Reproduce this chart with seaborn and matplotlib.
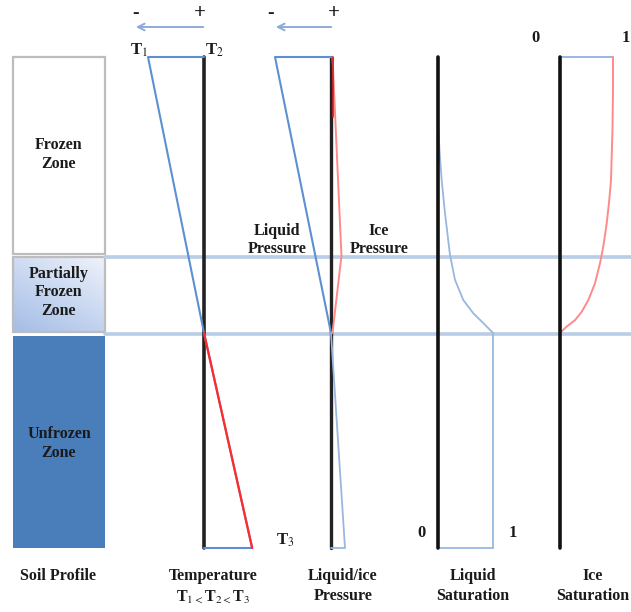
import numpy as np
import pandas as pd
import matplotlib
matplotlib.use("Agg")
import matplotlib.pyplot as plt
import seaborn as sns
from matplotlib.patches import Rectangle

# ---------------- data ----------------
zone_names = ["Frozen\nZone", "Partially\nFrozen\nZone", "Unfrozen\nZone"]
zone_bounds = [0.0, 0.405, 0.562, 1.0]          # depth fractions

temp_depth = [0.0, 0.562, 1.0]
temp_value = [-1.0, 0.0, 0.86]                  # relative to T2

lp_depth = [0.0, 0.562, 1.0]
lp_value = [-1.0, 0.0, 0.25]                    # liquid pressure
ip_depth = [0.0, 0.405, 0.562]
ip_value = [0.0, 0.16, 0.0]                     # ice pressure

ls_depth = [0.0, 0.128, 0.189, 0.251, 0.318, 0.403, 0.454, 0.495,
            0.522, 0.542, 0.562, 1.0]
ls_value = [0.0, 0.0, 0.027, 0.067, 0.127, 0.218, 0.309, 0.46,
            0.642, 0.824, 1.0, 1.0]             # liquid saturation

is_depth = [0.0, 0.067, 0.149, 0.251, 0.291, 0.339, 0.386, 0.420,
            0.461, 0.495, 0.519, 0.536, 0.549, 0.562]
is_value = [1.0, 1.0, 0.99, 0.962, 0.930, 0.881, 0.817, 0.755,
            0.66, 0.535, 0.409, 0.283, 0.126, 0.0]  # ice saturation

panel_titles = ["Soil Profile", "Temperature\nT$_{1<}$T$_{2<}$T$_3$",
                "Liquid/ice\nPressure", "Liquid\nSaturation", "Ice\nSaturation"]

# ---------------- layout ----------------
W, H = 631, 612
Y0, DH = 57, 491
BLUE = "#5d8fd2"
LBLUE = "#b9cde6"
RED = "#ff2a2a"
PINK = "#ff8a8a"

sns.set_theme(style="white")
plt.rcParams["font.family"] = ["Liberation Serif", "DejaVu Serif"]
plt.rcParams["mathtext.fontset"] = "stix"

fig = plt.figure(figsize=(W / 100, H / 100), dpi=100)
ax = fig.add_axes([0, 0, 1, 1])
ax.set_xlim(0, W)
ax.set_ylim(H, 0)
ax.axis("off")


def ypix(d):
    return Y0 + np.asarray(d, dtype=float) * DH


def draw(xs, ys, color, lw):
    df = pd.DataFrame({"x": np.asarray(xs, float), "y": np.asarray(ys, float)})
    sns.lineplot(data=df, x="x", y="y", sort=False, estimator=None,
                 color=color, lw=lw, ax=ax, legend=False)


TXT = dict(color="#1a1a1a", fontsize=11.5, ha="center", va="center",
           linespacing=1.2, fontweight="bold")
BTXT = dict(color="#1a1a1a", fontsize=12, ha="center", va="center",
            fontweight="bold")

# ---------------- soil profile ----------------
bx0, bx1 = 13, 105
yb = ypix(zone_bounds)
ax.add_patch(Rectangle((bx0, yb[0]), bx1 - bx0, yb[1] - 2 - yb[0],
                       facecolor="white", edgecolor="#bdbdbd", lw=1.6, zorder=2))
grad = np.linspace(0, 1, 60)[:, None] * 0.6 + np.linspace(0, 1, 60)[None, ::-1] * 0.4
cmap = matplotlib.colors.LinearSegmentedColormap.from_list("pf", ["#eef2fb", "#a4bde6"])
ax.imshow(grad, extent=(bx0, bx1, yb[2] - 1, yb[1] + 1), cmap=cmap,
          aspect="auto", zorder=1)
ax.add_patch(Rectangle((bx0, yb[1] + 1), bx1 - bx0, yb[2] - yb[1] - 2,
                       facecolor="none", edgecolor="#bdbdbd", lw=1.6, zorder=2))
ax.add_patch(Rectangle((bx0, yb[2] + 3), bx1 - bx0, yb[3] - yb[2] - 3,
                       facecolor="#4a7ebb", edgecolor="none", zorder=2))
for i, name in enumerate(zone_names):
    ax.text((bx0 + bx1) / 2, (yb[i] + yb[i + 1]) / 2 + (3 if i == 2 else -2),
            name, **TXT, zorder=3)

for d in zone_bounds[1:3]:
    draw([bx1, W], [ypix(d) + 1, ypix(d) + 1], LBLUE, 2.6)

# ---------------- temperature ----------------
x0, sc = 204, 56
draw([x0, x0], [Y0, Y0 + DH], "#222222", 2.6)
tx = x0 + np.array(temp_value) * sc
ty = ypix(temp_depth)
draw([x0, tx[0], tx[1]], [Y0, ty[0], ty[1]], BLUE, 1.5)
draw([tx[1], tx[2], x0], [ty[1], ty[2], Y0 + DH], BLUE, 1.5)
draw(tx[1:], ty[1:], RED, 1.6)
ax.annotate("", xy=(133, 27), xytext=(206, 27),
            arrowprops=dict(arrowstyle="->", color="#8eaadb", lw=1.4))
ax.text(136, 14, "-", **{**BTXT, "fontsize": 14})
ax.text(200, 13, "+", **{**BTXT, "fontsize": 15})
ax.text(139, 50, "T$_1$", **BTXT)
ax.text(214, 50, "T$_2$", **BTXT)
ax.text(285, 540, "T$_3$", **BTXT)

# ---------------- pressure ----------------
x0, sc = 331, 56
draw([x0, x0], [Y0, Y0 + DH], "#222222", 2.4)
px = x0 + np.array(lp_value) * sc
py = ypix(lp_depth)
draw([x0, px[0], px[1]], [Y0, py[0], py[1]], BLUE, 1.5)
draw([px[1], px[2], x0], [py[1], py[2], Y0 + DH], "#9ab7e0", 1.3)
draw(x0 + 1.5 + np.array(ip_value) * sc, ypix(ip_depth), PINK, 1.4)
draw([x0 + 1.5, x0 + 1.5], [Y0, Y0 + 60], "#cc2020", 1.2)
ax.annotate("", xy=(273, 27), xytext=(334, 27),
            arrowprops=dict(arrowstyle="->", color="#8eaadb", lw=1.4))
ax.text(271, 14, "-", **{**BTXT, "fontsize": 14})
ax.text(334, 13, "+", **{**BTXT, "fontsize": 15})
ax.text(277, 240, "Liquid\nPressure", **TXT)
ax.text(379, 240, "Ice\nPressure", **TXT)

# ---------------- liquid saturation ----------------
x0, sc = 438, 55
draw(x0 + np.array(ls_value) * sc, ypix(ls_depth), "#9ab7e0", 1.3)
draw([x0 + sc, x0], [Y0 + DH, Y0 + DH], "#9ab7e0", 1.3)
draw([x0, x0], [Y0, Y0 + DH], "#111111", 2.6)
ax.text(421, 533, "0", **BTXT)
ax.text(513, 533, "1", **BTXT)

# ---------------- ice saturation ----------------
x0, sc = 560, 53
draw([x0, x0 + sc], [Y0, Y0], "#9ab7e0", 1.4)
draw(x0 + np.array(is_value) * sc, ypix(is_depth), PINK, 1.4)
draw([x0, x0], [Y0, Y0 + DH], "#111111", 2.6)
ax.text(536, 38, "0", **BTXT)
ax.text(626, 38, "1", **BTXT)

# ---------------- bottom titles ----------------
for xc, t in zip([58, 213, 343, 473, 593], panel_titles):
    ax.text(xc, 568, t, color="#1a1a1a", fontsize=11.5, ha="center", va="top",
            linespacing=1.35, fontweight="bold")

fig.savefig("out.png", dpi=100)
